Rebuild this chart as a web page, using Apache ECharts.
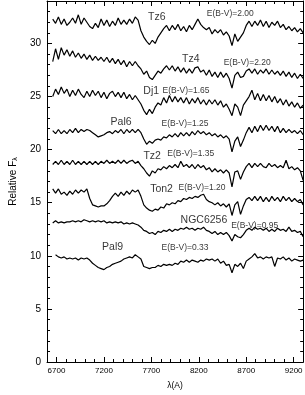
<!DOCTYPE html>
<html>
<head>
<meta charset="utf-8">
<script src="https://cdn.jsdelivr.net/npm/echarts@6/dist/echarts.min.js"></script>
<style>
html,body{margin:0;padding:0;background:#fff;}
#chart{width:305px;height:395px;}
</style>
</head>
<body>
<div id="chart"></div>
<script>
// wavelength grid (Angstrom)
var wavelength = [6660,6690,6720,6750,6780,6810,6840,6870,6900,6930,6960,6990,7020,7050,7080,7110,7140,7170,7200,7230,7260,7290,7320,7350,7380,7410,7440,7470,7500,7530,7560,7590,7620,7650,7680,7710,7740,7770,7800,7830,7860,7890,7920,7950,7980,8010,8040,8070,8100,8130,8160,8190,8220,8250,8280,8310,8340,8370,8400,8430,8460,8490,8520,8550,8580,8610,8640,8670,8700,8730,8760,8790,8820,8850,8880,8910,8940,8970,9000,9030,9060,9090,9120,9150,9180,9210,9240,9270,9300];

var fluxTz6 = [32.3,31.9,32.5,31.8,32.3,31.7,32.0,32.4,31.9,32.7,31.8,32.4,32.0,31.6,31.4,31.9,31.5,32.3,31.7,32.2,31.6,32.1,31.7,32.4,31.8,32.2,31.8,32.3,31.9,32.5,32.2,31.2,30.6,30.2,29.9,30.3,30.0,30.6,31.0,31.4,31.7,31.2,31.7,31.3,31.8,31.2,31.6,31.1,31.7,31.3,31.8,32.3,31.8,31.5,31.3,31.5,30.9,31.3,31.0,31.3,30.8,31.1,30.7,29.8,30.9,30.2,30.6,31.0,31.7,32.1,31.6,32.1,31.7,32.2,31.6,32.1,31.5,32.0,31.7,32.1,31.5,31.8,31.3,31.6,31.2,31.5,31.1,31.4,31.0];
var fluxTz4 = [28.3,29.5,28.5,29.6,28.9,29.4,28.8,29.3,28.7,29.1,28.6,29.0,28.5,28.9,28.4,28.8,28.4,28.7,28.3,28.7,28.2,28.6,28.1,28.5,28.0,28.4,27.8,28.3,27.9,28.3,27.9,27.6,27.1,27.4,26.8,26.6,27.0,27.4,27.2,27.6,27.9,27.5,27.9,27.4,27.8,27.3,27.7,27.2,27.6,27.2,27.7,27.8,27.3,27.5,27.0,27.5,26.9,27.3,26.8,27.3,26.8,27.2,26.7,25.8,27.0,27.3,26.8,26.9,27.4,27.6,27.2,27.6,27.1,27.5,27.2,27.6,27.1,27.5,27.1,27.4,27.0,27.4,26.9,27.3,26.8,27.2,26.7,27.1,26.7];
var fluxDj1 = [25.0,25.7,25.2,25.9,25.3,25.7,25.0,25.6,25.1,25.7,25.2,24.9,25.5,25.0,25.6,25.1,25.5,24.9,25.4,24.8,25.3,25.5,25.0,25.4,24.9,25.4,24.8,25.2,24.7,25.1,24.7,24.3,23.7,23.3,23.8,23.4,24.0,24.4,24.2,24.9,24.4,25.1,24.5,25.0,24.5,24.9,24.4,24.9,24.3,24.8,24.4,24.9,24.3,24.7,24.2,24.7,24.3,24.7,24.2,24.6,24.0,24.3,23.8,23.2,24.3,24.0,23.2,24.2,24.6,25.0,25.6,24.7,25.3,24.6,25.2,24.6,25.1,24.5,25.0,24.4,24.8,24.2,24.7,24.1,24.5,24.0,24.4,23.9,24.2];
var fluxPal6 = [21.8,21.5,21.9,21.5,21.8,21.5,21.9,21.6,22.0,21.6,21.9,21.7,21.9,21.8,21.6,21.4,21.2,21.3,21.4,21.6,21.7,21.5,21.8,21.6,21.9,21.5,21.9,21.6,21.9,21.6,21.9,21.6,21.0,20.5,20.8,20.6,20.9,21.0,20.9,21.2,21.1,21.4,21.2,21.5,21.2,21.6,21.3,21.6,21.3,21.7,21.4,21.8,21.5,21.7,21.4,21.6,21.3,21.5,21.2,21.4,21.1,21.3,21.0,19.8,20.8,21.2,20.3,20.9,21.6,22.1,21.6,22.2,21.7,22.3,21.8,22.3,21.8,22.2,21.7,22.2,21.6,22.0,21.6,21.9,21.6,21.8,21.5,21.8,21.4];
var fluxTz2 = [18.6,18.9,18.6,19.0,18.6,18.9,18.6,19.0,18.6,18.9,18.6,18.9,18.6,18.9,18.6,18.9,18.6,18.9,18.7,19.0,18.7,18.9,18.7,19.0,18.7,19.0,18.7,18.9,19.0,18.7,18.9,18.5,18.2,17.8,17.5,18.0,17.8,18.2,18.1,18.4,18.2,18.5,18.3,18.6,18.3,18.9,18.4,18.6,18.3,18.6,18.2,18.6,18.3,18.5,18.1,18.3,17.9,18.2,17.9,18.1,17.8,18.1,17.8,16.5,17.9,18.0,17.2,17.9,18.4,18.7,18.3,18.7,18.4,18.7,18.4,18.3,18.7,18.4,18.6,18.3,18.5,18.3,19.0,18.2,18.4,18.1,18.3,18.0,17.1];
var fluxTon2 = [16.3,15.9,16.3,15.8,16.0,15.7,16.1,15.8,16.2,15.9,16.2,16.0,16.3,15.4,14.8,14.7,14.6,14.7,14.7,14.9,15.2,15.6,15.9,15.6,16.0,15.7,16.1,15.8,16.2,16.0,16.2,15.6,14.8,14.5,14.3,14.2,14.4,14.3,14.6,14.5,14.9,14.8,15.0,14.9,15.2,15.1,15.4,15.3,15.5,15.4,15.6,15.5,15.7,15.8,15.3,15.1,15.0,14.8,15.0,14.7,14.9,14.6,14.9,13.8,14.8,15.1,13.9,14.7,15.3,15.5,15.2,15.6,15.2,15.6,15.1,15.5,15.1,15.6,15.2,15.5,15.1,15.6,15.2,15.5,15.1,15.4,15.1,15.3,14.8];
var fluxNGC6256 = [13.1,13.3,13.1,13.2,13.1,13.2,13.2,13.3,13.2,13.3,13.2,13.4,13.3,13.2,13.3,13.2,13.3,13.2,13.3,13.1,13.2,13.1,13.2,13.1,13.2,13.0,13.1,13.0,13.1,13.0,12.9,12.7,12.4,12.3,12.1,12.2,12.0,12.3,12.2,12.4,12.3,12.5,12.3,12.5,12.4,12.6,12.5,12.7,12.5,12.6,12.4,12.6,12.5,12.7,12.4,12.3,12.1,12.3,12.0,12.2,12.0,12.2,11.9,11.4,12.0,11.8,11.7,12.0,12.4,12.6,12.4,12.7,12.5,12.6,12.4,12.6,12.3,12.5,12.3,12.6,12.4,12.5,12.3,12.7,12.3,12.4,12.2,12.3,11.8];
var fluxPal9 = [null,10.1,9.9,9.8,9.9,9.7,9.8,9.7,9.8,9.6,9.8,9.7,9.8,9.6,9.3,9.1,8.9,8.8,8.7,8.9,9.0,9.2,9.3,9.4,9.5,9.7,9.8,9.9,9.8,10.1,9.9,9.7,9.0,8.9,8.8,8.9,8.9,9.1,9.0,9.2,9.1,9.2,9.1,9.3,9.2,9.5,9.4,9.6,9.4,9.6,9.5,9.4,9.6,9.5,9.7,9.6,9.7,9.5,9.7,9.3,9.5,9.1,9.2,8.4,9.2,9.0,9.3,8.8,9.5,9.7,9.9,10.2,9.8,9.9,9.7,9.9,9.8,9.9,9.0,9.8,9.7,9.9,9.6,9.8,9.5,9.7,9.6,9.5,9.6];

var spectra = [fluxTz6, fluxTz4, fluxDj1, fluxPal6, fluxTz2, fluxTon2, fluxNGC6256, fluxPal9];

var xMajorTicks = [6700, 7200, 7700, 8200, 8700, 9200];
var yMajorTicks = [0, 5, 10, 15, 20, 25, 30];

// annotation texts and their anchor (data coords)
var annoText = ['Tz6','E(B-V)=2.00','Tz4','E(B-V)=2.20','Dj1','E(B-V)=1.65','Pal6','E(B-V)=1.25','Tz2','E(B-V)=1.35','Ton2','E(B-V)=1.20','NGC6256','E(B-V)=0.95','Pal9','E(B-V)=0.33'];
var annoX = [7758,8532,8115,8710,7698,8065,7381,8055,7708,8115,7807,8234,8254,8789,7291,8055];
var annoY = [32.45,32.8,28.55,28.17,25.5,25.58,22.6,22.43,19.37,19.65,16.31,16.4,13.35,12.88,10.84,10.75];

var FONT = '"Liberation Sans", Arial, Helvetica, sans-serif';
var X_MIN = 6600, X_MAX = 9300, Y_MIN = 0, Y_MAX = 34;

function pairs(ys) {
  return wavelength.map(function (w, i) { return [w, ys[i]]; });
}

var series = spectra.map(function (s) {
  return {
    type: 'line', data: pairs(s), showSymbol: false, symbol: 'none',
    lineStyle: { color: '#000', width: 1.2 }, connectNulls: false,
    xAxisIndex: 0, yAxisIndex: 0, silent: true
  };
});

series.push({
  type: 'scatter', xAxisIndex: 0, yAxisIndex: 0, symbolSize: 0, silent: true,
  data: annoText.map(function (t, i) {
    return { value: [annoX[i], annoY[i]], name: t,
             label: { fontSize: t.indexOf('E(') === 0 ? 8.5 : 10.5 } };
  }),
  label: {
    show: true, position: 'inside', color: '#000', fontFamily: FONT,
    formatter: function (p) { return p.name; }
  }
});

var lineStyle = { color: '#000', width: 1 };
function plain(v) { return String(v); }
function xAx(pos, major, showLabel, showLine) {
  return {
    type: 'value', position: pos, min: X_MIN, max: X_MAX,
    interval: major ? undefined : 100,
    axisLine: { show: showLine, onZero: false, lineStyle: lineStyle },
    axisTick: major ? { show: true, inside: true, length: 5, lineStyle: lineStyle, customValues: xMajorTicks }
                    : { show: true, inside: true, length: 3, lineStyle: lineStyle },
    axisLabel: showLabel ? { show: true, customValues: xMajorTicks, formatter: plain, color: '#000', fontSize: 8, fontFamily: FONT, margin: 5 } : { show: false },
    splitLine: { show: false }
  };
}
function yAx(pos, major, showLabel, showLine) {
  return {
    type: 'value', position: pos, min: Y_MIN, max: Y_MAX,
    interval: major ? undefined : 1,
    axisLine: { show: showLine, onZero: false, lineStyle: lineStyle },
    axisTick: major ? { show: true, inside: true, length: 5, lineStyle: lineStyle, customValues: yMajorTicks }
                    : { show: true, inside: true, length: 3, lineStyle: lineStyle },
    axisLabel: showLabel ? { show: true, customValues: yMajorTicks, formatter: plain, color: '#000', fontSize: 10, fontFamily: FONT, margin: 6 } : { show: false },
    splitLine: { show: false }
  };
}

var xAxes = [xAx('bottom', true, true, true), xAx('bottom', false, false, false), xAx('top', true, false, true), xAx('top', false, false, false)];
xAxes[0].name = 'λ(A)';
xAxes[0].nameLocation = 'middle';
xAxes[0].nameGap = 19;
xAxes[0].nameTextStyle = { color: '#000', fontSize: 8.5, fontFamily: FONT };

var yAxes = [yAx('left', true, true, true), yAx('left', false, false, false), yAx('right', true, false, true), yAx('right', false, false, false)];
yAxes[0].name = '{a|Relative F}{b|λ}';
yAxes[0].nameLocation = 'middle';
yAxes[0].nameGap = 23;
yAxes[0].nameRotate = 90;
yAxes[0].nameTextStyle = {
  color: '#000', fontFamily: FONT,
  rich: {
    a: { fontSize: 10, color: '#000', fontFamily: FONT },
    b: { fontSize: 7, color: '#000', fontFamily: FONT, padding: [5, 0, 0, 0] }
  }
};

var chart = echarts.init(document.getElementById('chart'), null, { renderer: 'canvas' });
chart.setOption({
  animation: false,
  backgroundColor: '#fff',
  grid: { left: 32, right: 1, top: 1, bottom: 28, containLabel: false },
  xAxis: xAxes,
  yAxis: yAxes,
  series: series
});
</script>
</body>
</html>
